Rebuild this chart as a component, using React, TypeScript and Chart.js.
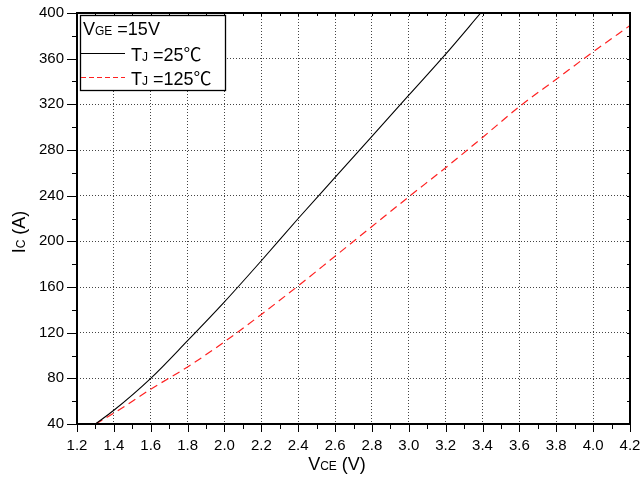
import React, { useEffect, useRef } from "react";
import { Chart, registerables } from "chart.js";

Chart.register(...registerables);

// ---- data ----
const vceTJ25 = [1.3, 1.4, 1.6, 1.8, 2.0, 2.2, 2.4, 2.6, 2.8, 3.0, 3.2, 3.39];
const icTJ25 = [40, 52, 80, 113, 147, 183, 220, 256, 292, 328, 364, 400];

const vceTJ125 = [1.3, 1.4, 1.6, 1.8, 2.0, 2.2, 2.4, 2.6, 2.8, 3.0, 3.2, 3.4, 3.6, 3.8, 4.0, 4.2];
const icTJ125 = [40, 49.5, 70.5, 90, 112, 136, 161, 187, 213, 239, 264.5, 291, 318, 342, 366, 389];

const xRange = [1.2, 4.2];
const xStep = 0.2;
const yRange = [40, 400];
const yStep = 40;

type Part = { t: string; small?: boolean; cjk?: boolean };
const legendHeader: Part[] = [{ t: "V" }, { t: "GE", small: true }, { t: " =15V" }];
const seriesNames: Part[][] = [
  [{ t: "T" }, { t: "J", small: true }, { t: " =25" }, { t: "℃", cjk: true }],
  [{ t: "T" }, { t: "J", small: true }, { t: " =125" }, { t: "℃", cjk: true }],
];
const xTitle: Part[] = [{ t: "V" }, { t: "CE", small: true }, { t: " (V)" }];
const yTitle: Part[] = [{ t: "I" }, { t: "C", small: true }, { t: " (A)" }];

const FAMILY = "'Liberation Sans', Arial, sans-serif";
const CJK = "'Noto Sans CJK SC', 'Liberation Sans', sans-serif";
const BIG = 18;
const SMALL = 12;

function setFont(ctx: CanvasRenderingContext2D, p: Part) {
  ctx.font = `${p.small ? SMALL : BIG}px ${p.cjk ? CJK : FAMILY}`;
}

function partsWidth(ctx: CanvasRenderingContext2D, parts: Part[]) {
  let w = 0;
  for (const p of parts) {
    setFont(ctx, p);
    w += ctx.measureText(p.t).width;
  }
  return w;
}

function drawParts(ctx: CanvasRenderingContext2D, parts: Part[], x: number, y: number) {
  ctx.textBaseline = "alphabetic";
  ctx.textAlign = "left";
  ctx.fillStyle = "#000";
  let cx = x;
  for (const p of parts) {
    setFont(ctx, p);
    ctx.fillText(p.t, cx, y);
    cx += ctx.measureText(p.t).width;
  }
}

const framePlugin = {
  id: "frame",
  afterDraw(chart: any) {
    const ctx: CanvasRenderingContext2D = chart.ctx;
    const { left, right, top, bottom } = chart.chartArea;
    const xs = chart.scales.x;
    const ys = chart.scales.y;
    ctx.save();
    ctx.strokeStyle = "#000";
    ctx.setLineDash([]);

    // ticks
    ctx.lineWidth = 1;
    ctx.beginPath();
    const nx = Math.round((xRange[1] - xRange[0]) / (xStep / 2));
    for (let i = 0; i <= nx; i++) {
      const v = xRange[0] + (i * xStep) / 2;
      const px = Math.round(xs.getPixelForValue(v)) + 0.5;
      const major = i % 2 === 0;
      ctx.moveTo(px, bottom);
      ctx.lineTo(px, bottom + (major ? 8 : 5));
      ctx.moveTo(px, top);
      ctx.lineTo(px, top + 3);
    }
    const ny = Math.round((yRange[1] - yRange[0]) / (yStep / 2));
    for (let i = 0; i <= ny; i++) {
      const v = yRange[0] + (i * yStep) / 2;
      const py = Math.round(ys.getPixelForValue(v)) + 0.5;
      const major = i % 2 === 0;
      ctx.moveTo(left, py);
      ctx.lineTo(left - (major ? 10 : 5), py);
      ctx.moveTo(right, py);
      ctx.lineTo(right - 3, py);
    }
    ctx.stroke();

    // frame
    ctx.lineWidth = 2;
    ctx.strokeRect(left, top, right - left, bottom - top);

    // axis titles
    const wx = partsWidth(ctx, xTitle);
    drawParts(ctx, xTitle, 337 - wx / 2, 470);
    const wy = partsWidth(ctx, yTitle);
    ctx.save();
    ctx.translate(25, 232);
    ctx.rotate(-Math.PI / 2);
    drawParts(ctx, yTitle, -wy / 2, 0);
    ctx.restore();

    // legend box
    const bx = 80.5, by = 15.5, bw = 145, bh = 75;
    ctx.fillStyle = "#fff";
    ctx.fillRect(bx, by, bw, bh);
    ctx.lineWidth = 1.3;
    ctx.strokeStyle = "#000";
    ctx.strokeRect(bx, by, bw, bh);
    drawParts(ctx, legendHeader, 83, 35);
    const baselines = [61, 85];
    const colors = ["#000", "#ff2020"];
    const dashes = [[], [5, 3]];
    seriesNames.forEach((parts, i) => {
      ctx.save();
      ctx.strokeStyle = colors[i];
      ctx.lineWidth = 1;
      ctx.setLineDash(dashes[i]);
      ctx.beginPath();
      ctx.moveTo(81, baselines[i] - 7.5);
      ctx.lineTo(125, baselines[i] - 7.5);
      ctx.stroke();
      ctx.restore();
      drawParts(ctx, parts, 131, baselines[i]);
    });
    ctx.restore();
  },
};

export default function App() {
  const ref = useRef<HTMLCanvasElement | null>(null);

  useEffect(() => {
    if (!ref.current) return;
    const tickFont = { family: FAMILY, size: 15 };
    const chart = new Chart(ref.current, {
      type: "line",
      data: {
        datasets: [
          {
            label: "TJ=25℃",
            data: vceTJ25.map((x, i) => ({ x, y: icTJ25[i] })),
            borderColor: "#000",
            borderWidth: 1.1,
            pointRadius: 0,
            cubicInterpolationMode: "monotone",
            fill: false,
          },
          {
            label: "TJ=125℃",
            data: vceTJ125.map((x, i) => ({ x, y: icTJ125[i] })),
            borderColor: "#ff2020",
            borderWidth: 1.2,
            borderDash: [8, 5],
            pointRadius: 0,
            cubicInterpolationMode: "monotone",
            fill: false,
          },
        ],
      },
      options: {
        responsive: false,
        animation: false,
        devicePixelRatio: 1,
        layout: { padding: { top: 13, right: 12, left: 0, bottom: 0 } },
        plugins: { legend: { display: false }, tooltip: { enabled: false } },
        scales: {
          x: {
            type: "linear",
            min: xRange[0],
            max: xRange[1],
            ticks: {
              stepSize: xStep,
              autoSkip: false,
              maxRotation: 0,
              color: "#000",
              font: tickFont,
              padding: 13,
              callback: (v: any) => Number(v).toFixed(1),
            },
            grid: { color: "#444", lineWidth: 1, drawTicks: false },
            border: { display: false, dash: [1, 2] },
            afterFit: (s: any) => {
              s.height = 56;
              s.paddingLeft = 0;
              s.paddingRight = 0;
            },
          },
          y: {
            type: "linear",
            min: yRange[0],
            max: yRange[1],
            ticks: {
              stepSize: yStep,
              autoSkip: false,
              color: "#000",
              font: tickFont,
              padding: 13,
            },
            grid: { color: "#444", lineWidth: 1, drawTicks: false },
            border: { display: false, dash: [1, 2] },
            afterFit: (s: any) => {
              s.width = 77;
              s.paddingTop = 0;
              s.paddingBottom = 0;
            },
          },
        },
      },
      plugins: [framePlugin],
    } as any);
    return () => chart.destroy();
  }, []);

  return (
    <div style={{ position: "fixed", left: 0, top: 0, width: 642, height: 480, background: "#fff" }}>
      <canvas ref={ref} width={642} height={480} />
    </div>
  );
}
